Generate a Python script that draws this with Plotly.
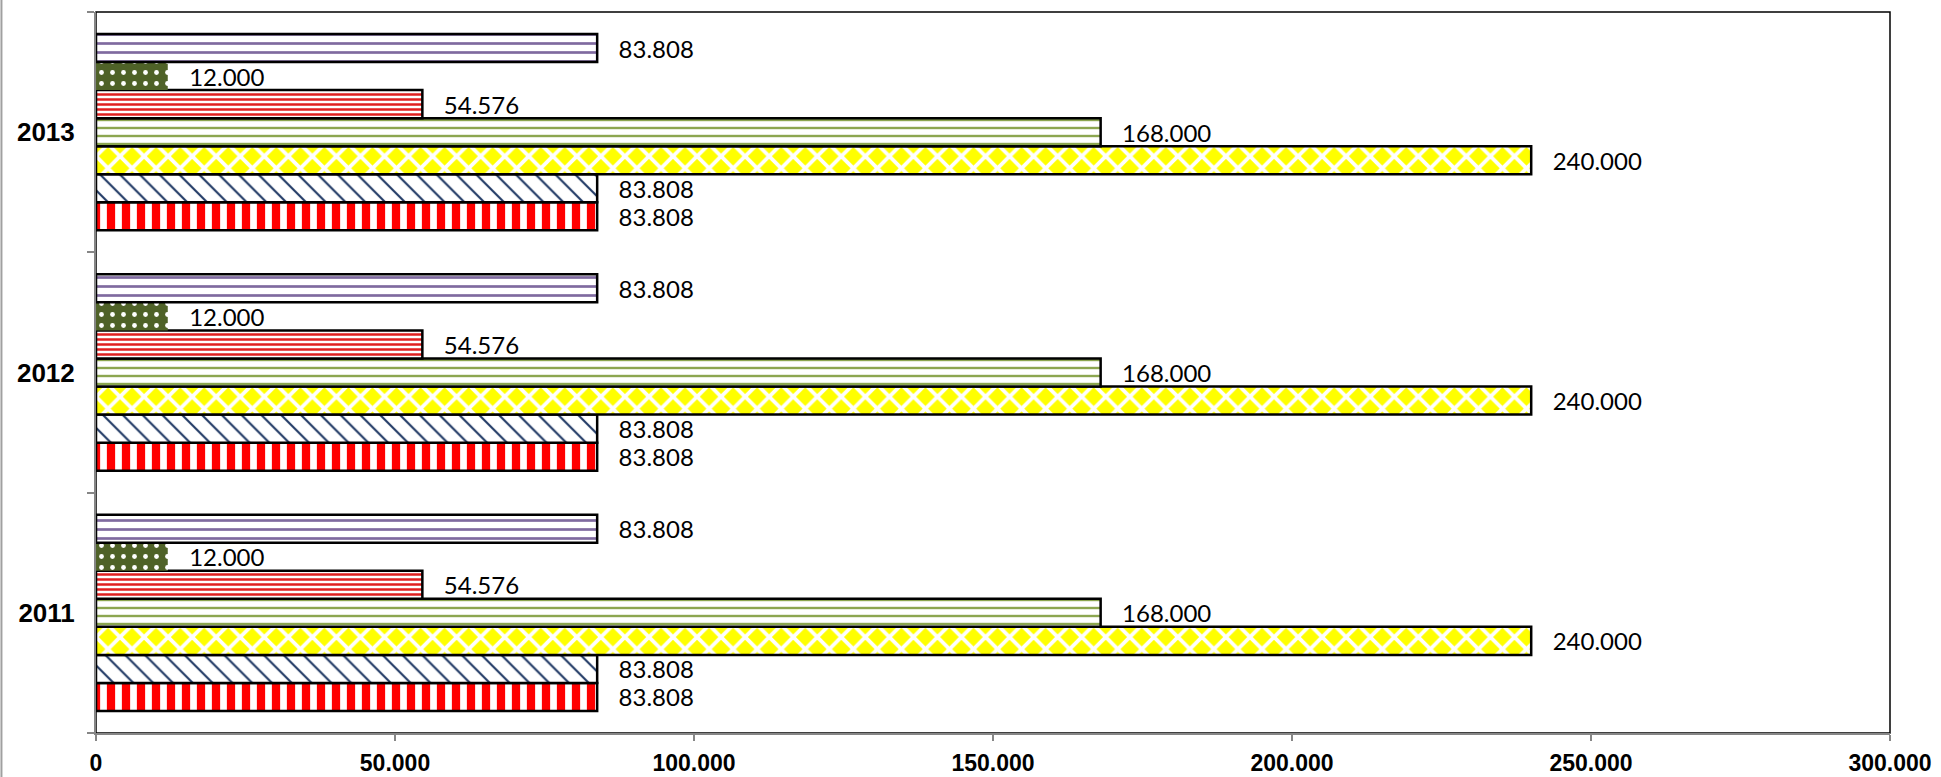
import plotly.graph_objects as go

years = ["2011", "2012", "2013"]
# series listed bottom-to-top inside each year group
series_names = ["Series 1", "Series 2", "Series 3", "Series 4", "Series 5", "Series 6", "Series 7"]
s1 = [83808, 83808, 83808]
s2 = [83808, 83808, 83808]
s3 = [240000, 240000, 240000]
s4 = [168000, 168000, 168000]
s5 = [54576, 54576, 54576]
s6 = [12000, 12000, 12000]
s7 = [83808, 83808, 83808]
values = [s1, s2, s3, s4, s5, s6, s7]
x_ticks = [0, 50000, 100000, 150000, 200000, 250000, 300000]

styles = [
    dict(shape="|", fg="#FFFFFF", bg="#FF0000", size=15, sol=0.45, lw=2.5),
    dict(shape="\\", fg="#1F3864", bg="#FFFFFF", size=14, sol=0.15, lw=2.5),
    dict(shape="x", fg="#FFFFFF", bg="#FFFF00", size=17, sol=0.4, lw=2.5),
    dict(shape="-", fg="#8CA650", bg="#FFFFFF", size=8, sol=0.3, lw=2.5),
    dict(shape="-", fg="#E02020", bg="#FFFFFF", size=5, sol=0.5, lw=2.5),
    dict(shape=".", fg="#FFFFFF", bg="#4F6228", size=11, sol=0.15, lw=0),
    dict(shape="-", fg="#7F6A9F", bg="#FFFFFF", size=9, sol=0.3, lw=2.5),
]

fig = go.Figure()
for name, vals, st in zip(series_names, values, styles):
    fig.add_trace(go.Bar(
        y=years, x=vals, name=name, orientation="h",
        marker=dict(
            color=st["bg"],
            line=dict(color="#000000", width=st["lw"]),
            pattern=dict(shape=st["shape"], fgcolor=st["fg"], bgcolor=st["bg"],
                         size=st["size"], solidity=st["sol"], fillmode="replace"),
        ),
        text=vals,
        texttemplate="\u00a0\u00a0\u00a0%{x:,}",
        textposition="outside",
        constraintext="none",
        cliponaxis=False,
        textfont=dict(family="Lato", size=24, color="#000000"),
        showlegend=False,
    ))

fig.update_layout(
    width=1941, height=777,
    margin=dict(l=96, r=51, t=12, b=44),
    barmode="group", bargap=0.183, bargroupgap=0,
    plot_bgcolor="#FFFFFF", paper_bgcolor="#FFFFFF",
    separators=",.",
    shapes=[
        dict(type="rect", xref="paper", yref="paper", x0=0, x1=1, y0=0, y1=1,
             line=dict(color="#000000", width=1.5), layer="below"),
        dict(type="line", xref="paper", yref="paper", x0=-0.0527, x1=-0.0527, y0=-0.07, y1=1.02,
             line=dict(color="#A0A0A0", width=2)),
    ],
)
fig.update_xaxes(
    range=[0, 300000], tickvals=x_ticks, tickformat=",",
    showgrid=False, zeroline=False, automargin=False,
    showline=True, linecolor="#868686", linewidth=2,
    ticks="outside", ticklen=6, tickcolor="#868686", tickwidth=1.5,
    tickfont=dict(family="Liberation Sans", size=23, color="#000000", weight="bold"),
    ticklabelstandoff=2,
)
fig.update_yaxes(
    type="category", categoryorder="array", categoryarray=years,
    showgrid=False, zeroline=False, automargin=False,
    showline=True, linecolor="#868686", linewidth=2,
    ticks="outside", ticklen=7, tickcolor="#868686", tickwidth=1.5,
    tickson="boundaries",
    tickfont=dict(family="Liberation Sans", size=26, color="#000000", weight="bold"),
    ticklabelstandoff=14,
)

fig.write_html("out.html", config={"displayModeBar": False},
               post_script="document.body.style.margin='0';")
